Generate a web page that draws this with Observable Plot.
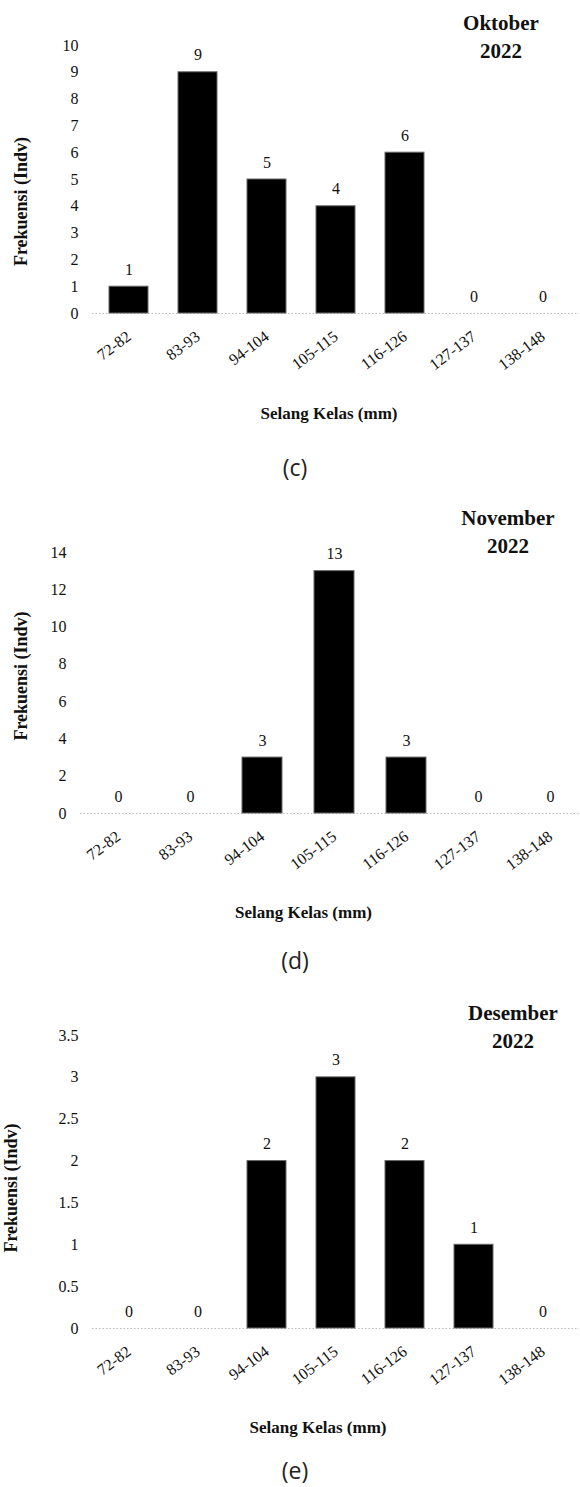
<!DOCTYPE html>
<html><head><meta charset="utf-8">
<script src="https://cdn.jsdelivr.net/npm/d3@7"></script>
<script src="https://cdn.jsdelivr.net/npm/@observablehq/plot@0.6"></script>
<style>
html,body{margin:0;padding:0;background:#fff;}
#page{position:relative;width:580px;height:1487px;overflow:hidden;font-family:"Liberation Serif","Times New Roman",serif;color:#111}
#page svg text{font-family:"Liberation Serif","Times New Roman",serif !important;}
#page svg g[aria-label*="y-axis"], #page svg g[aria-label*="y-axis"] text{font-size:16px !important;}
.svgwrap{position:absolute;left:0;width:580px}
.title{position:absolute;font-weight:bold;font-size:21px;line-height:28px;text-align:center;width:140px;white-space:pre;color:#111}
.cap{position:absolute;left:0;width:590px;text-align:center;font-family:"Open Sans",sans-serif;font-size:23px;line-height:26px;color:#222}
</style></head><body><div id="page"></div>
<script>
// ---- data ----
const classes = ["72-82","83-93","94-104","105-115","116-126","127-137","138-148"];
const oktober = [1, 9, 5, 4, 6, 0, 0];
const november = [0, 0, 3, 13, 3, 0, 0];
const desember = [0, 0, 2, 3, 2, 1, 0];
const months = ["Oktober", "November", "Desember"];
const year = "2022";
const captions = ["(c)", "(d)", "(e)"];
const ticksC = [0,1,2,3,4,5,6,7,8,9,10];
const ticksD = [0,2,4,6,8,10,12,14];
const ticksE = [0,0.5,1,1.5,2,2.5,3,3.5];
const xLabel = "Selang Kelas (mm)";
const yLabel = "Frekuensi (Indv)";

// ---- layout ----
const SERIF = '"Liberation Serif","Times New Roman",serif';
const layouts = [
  {top:0,   height:440, mt:45, bottom:313, ml:92, mr:1, xRange:[92,579], pad:0.44, titleX:501, titleTop:9,   xlab:[-7,100],  ylab:[-71,22], capTop:454},
  {top:480, height:460, mt:72, bottom:333, ml:80, mr:0, xRange:[80,587], pad:0.45, titleX:508, titleTop:504, xlab:[-27,99],  ylab:[-59,-7], capTop:947},
  {top:990, height:460, mt:45, bottom:338, ml:92, mr:1, xRange:[91,579], pad:0.44, titleX:513, titleTop:999, xlab:[-18,99],  ylab:[-81,6],  capTop:1457}
];
const series = [oktober, november, desember];
const tickSets = [ticksC, ticksD, ticksE];

const page = document.getElementById("page");

series.forEach((values, k) => {
  const L = layouts[k];
  const ticks = tickSets[k];
  const data = classes.map((c, i) => ({kelas: c, n: values[i]}));
  const chart = Plot.plot({
    width: 580,
    height: L.height,
    marginTop: L.mt,
    marginBottom: L.height - L.bottom,
    marginLeft: L.ml,
    marginRight: L.mr,
    style: {fontFamily: SERIF, fontSize: "16px", color: "#111", background: "transparent", overflow: "visible"},
    x: {domain: classes, range: L.xRange, paddingInner: L.pad, paddingOuter: L.pad / 2, axis: null},
    y: {domain: [0, ticks[ticks.length - 1]], ticks: ticks, tickFormat: d => String(d), tickSize: 0, tickPadding: 14, label: null},
    marks: [
      Plot.ruleY([0], {stroke: "#bbb", strokeDasharray: "1.5,2"}),
      Plot.barY(data, {filter: d => d.n > 0, x: "kelas", y: "n", fill: "#000", stroke: "#666", strokeWidth: 1}),
      Plot.text(data, {x: "kelas", y: "n", text: d => String(d.n), dy: -17, fontSize: 16, fill: "#111"}),
      Plot.text(classes, {x: d => d, text: d => d, frameAnchor: "bottom", rotate: -37, textAnchor: "end", lineAnchor: "middle", dy: 21, fontSize: 16, fill: "#111"}),
      Plot.text([xLabel], {frameAnchor: "bottom", text: d => d, textAnchor: "middle", lineAnchor: "middle", dx: L.xlab[0], dy: L.xlab[1], fontWeight: "bold", fontSize: 17, fill: "#111"}),
      Plot.text([yLabel], {frameAnchor: "left", text: d => d, rotate: -90, textAnchor: "middle", lineAnchor: "middle", dx: L.ylab[0], dy: L.ylab[1], fontWeight: "bold", fontSize: 18, fill: "#111"})
    ]
  });
  const wrap = document.createElement("div");
  wrap.className = "svgwrap";
  wrap.style.top = L.top + "px";
  wrap.appendChild(chart);
  page.appendChild(wrap);

  const t = document.createElement("div");
  t.className = "title";
  t.style.left = (L.titleX - 70) + "px";
  t.style.top = L.titleTop + "px";
  t.textContent = months[k] + "\n" + year;
  page.appendChild(t);

  const c = document.createElement("div");
  c.className = "cap";
  c.style.top = L.capTop + "px";
  c.textContent = captions[k];
  page.appendChild(c);
});
</script>
</body></html>
